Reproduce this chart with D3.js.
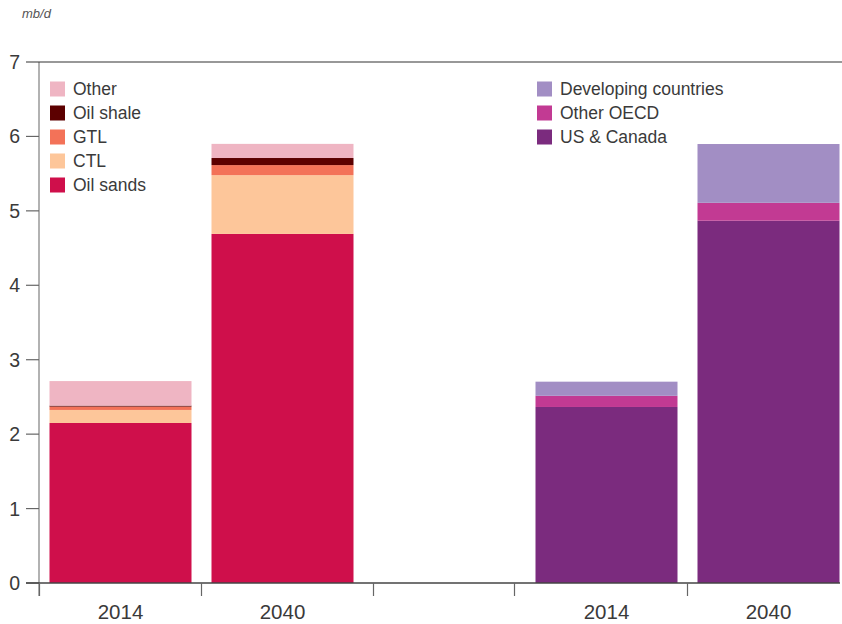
<!DOCTYPE html>
<html>
<head>
<meta charset="utf-8">
<script src="https://cdn.jsdelivr.net/npm/d3@7"></script>
<style>
  body { margin: 0; background: #fff; }
  text { font-family: "Liberation Sans", Arial, sans-serif; fill: #3a3a3a; }
</style>
</head>
<body>
<script>
// categories (5 slots, middle one is an empty spacer)
let slots = ["tech2014", "tech2040", "gap", "reg2014", "reg2040"];
let slotLabels = ["2014", "2040", "", "2014", "2040"];

// left group: by technology
let techKeys = ["Oil sands", "CTL", "GTL", "Oil shale", "Other"];
let techColors = ["#cf0f4b", "#fdc69a", "#f37258", "#5c0000", "#efb5c3"];
let oilSands = [2.15, 4.69];
let ctl = [0.175, 0.79];
let gtl = [0.045, 0.135];
let oilShale = [0.013, 0.095];
let other = [0.33, 0.19];

// right group: by region
let regKeys = ["US & Canada", "Other OECD", "Developing countries"];
let regColors = ["#7b2b7e", "#c23a93", "#a28ec4"];
let usCanada = [2.365, 4.868];
let otherOecd = [0.15, 0.24];
let developing = [0.19, 0.79];

let yTicks = [0, 1, 2, 3, 4, 5, 6, 7];

let width = 842, height = 624;

let svg = d3.select("body").append("svg")
  .attr("width", width)
  .attr("height", height);

let x = d3.scaleBand()
  .domain(slots)
  .range([39.5, 849.5])
  .paddingInner(20 / 162)
  .paddingOuter(10 / 162);

let y = d3.scaleLinear()
  .domain([0, 7])
  .range([583, 62]);

// build stacked rows
let techRows = [0, 1].map(i => ({
  slot: slots[i],
  "Oil sands": oilSands[i], "CTL": ctl[i], "GTL": gtl[i],
  "Oil shale": oilShale[i], "Other": other[i]
}));
let regRows = [0, 1].map(i => ({
  slot: slots[i + 3],
  "US & Canada": usCanada[i], "Other OECD": otherOecd[i],
  "Developing countries": developing[i]
}));

let drawStack = (rows, keys, colors) => {
  let series = d3.stack().keys(keys)(rows);
  svg.append("g")
    .selectAll("g")
    .data(series)
    .enter()
    .append("g")
    .attr("fill", (d, i) => colors[i])
    .selectAll("rect")
    .data(d => d)
    .enter()
    .append("rect")
    .attr("x", d => x(d.data.slot))
    .attr("width", x.bandwidth())
    .attr("y", d => y(d[1]))
    .attr("height", d => y(d[0]) - y(d[1]));
};

drawStack(techRows, techKeys, techColors);
drawStack(regRows, regKeys, regColors);

// y axis
let yAxis = svg.append("g");
yAxis.append("line")
  .attr("x1", 39).attr("x2", 39)
  .attr("y1", y(7)).attr("y2", 596)
  .attr("stroke", "#999").attr("stroke-width", 1.5);
yAxis.selectAll(".tick")
  .data(yTicks)
  .enter()
  .append("line")
  .attr("x1", 26)
  .attr("x2", d => (d === 7 ? width : 39))
  .attr("y1", d => y(d)).attr("y2", d => y(d))
  .attr("stroke", d => (d === 7 ? "#333" : "#666"))
  .attr("stroke-width", 1.2);
yAxis.selectAll("text")
  .data(yTicks)
  .enter()
  .append("text")
  .attr("x", 20)
  .attr("y", d => y(d))
  .attr("dy", "0.36em")
  .attr("text-anchor", "end")
  .attr("font-size", 19.5)
  .text(d => d);

svg.append("text")
  .attr("x", 22).attr("y", 18)
  .attr("font-size", 13)
  .attr("font-style", "italic")
  .style("fill", "#555")
  .text("mb/d");

// x axis
svg.append("line")
  .attr("x1", 26).attr("x2", 840)
  .attr("y1", y(0)).attr("y2", y(0))
  .attr("stroke", "#444").attr("stroke-width", 1.5);

let step = x.step();
let xTickPos = [
  x("tech2014") - step * 10 / 162,
  x("tech2040") - step * 10 / 162,
  x("gap"),
  x("reg2014") - step * 21 / 162,
  x("reg2040") - step * 10 / 162
];
svg.append("g")
  .selectAll("line")
  .data(xTickPos)
  .enter()
  .append("line")
  .attr("x1", d => d).attr("x2", d => d)
  .attr("y1", y(0)).attr("y2", 596)
  .attr("stroke", "#666").attr("stroke-width", 1.2);

svg.append("g")
  .selectAll("text")
  .data(slots.filter((s, i) => slotLabels[i] !== ""))
  .enter()
  .append("text")
  .attr("x", d => x(d) + x.bandwidth() / 2)
  .attr("y", 619)
  .attr("text-anchor", "middle")
  .attr("font-size", 20.5)
  .text(d => slotLabels[slots.indexOf(d)]);

// legends
let legend = (keys, colors, lx, ly) => {
  let items = keys.map((k, i) => ({ k: k, c: colors[i] })).reverse();
  let g = svg.append("g").attr("transform", `translate(${lx},${ly})`);
  let row = g.selectAll("g")
    .data(items)
    .enter()
    .append("g")
    .attr("transform", (d, i) => `translate(0,${i * 24})`);
  row.append("rect")
    .attr("x", 0).attr("y", -7.5)
    .attr("width", 15).attr("height", 15)
    .attr("fill", d => d.c);
  row.append("text")
    .attr("x", 23)
    .attr("y", 0)
    .attr("dy", "0.36em")
    .attr("font-size", 17.5)
    .text(d => d.k);
};

legend(techKeys, techColors, 50, 89);
legend(regKeys, regColors, 537, 89);
</script>
</body>
</html>
